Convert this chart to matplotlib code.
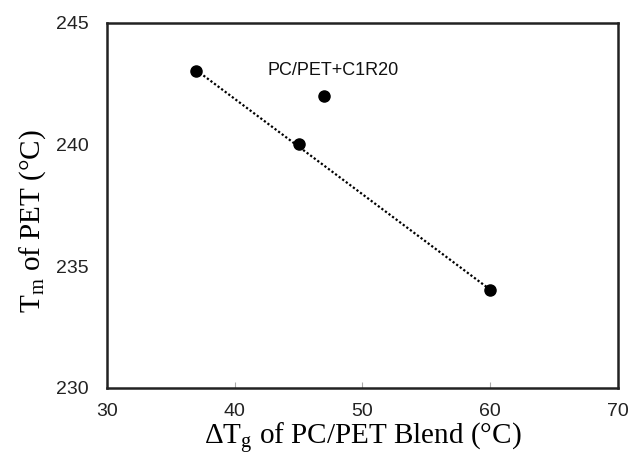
import numpy as np
import matplotlib
matplotlib.use("Agg")
import matplotlib.pyplot as plt

# Data
blend_dTg = [37, 45, 60]          # ΔTg of PC/PET blend (°C)
blend_Tm = [243, 240, 234]        # Tm of PET (°C)
c1r20_dTg = [47]
c1r20_Tm = [242]
annotation = "PC/PET+C1R20"
xticks = [30, 40, 50, 60, 70]
yticks = [230, 235, 240, 245]

plt.rcParams["font.family"] = ["Liberation Sans", "DejaVu Sans"]
plt.rcParams["mathtext.fontset"] = "custom"
plt.rcParams["mathtext.rm"] = "Liberation Serif"

fig = plt.figure(figsize=(6.32, 4.57), dpi=100)
ax = fig.add_axes([0.169, 0.1516, 0.809, 0.7984])

# linear trend through blend points
coef = np.polyfit(blend_dTg, blend_Tm, 1)
xs = np.array([min(blend_dTg), max(blend_dTg)])
ax.plot(xs, np.polyval(coef, xs), linestyle=(0, (1, 1)), color="black", lw=1.6, zorder=2)

ax.plot(blend_dTg, blend_Tm, "o", color="black", ms=8, zorder=3)
ax.plot(c1r20_dTg, c1r20_Tm, "o", color="black", ms=8, zorder=3)
ax.text(42.6, 243.05, annotation, fontsize=13, ha="left", va="center", color="#111111")

ax.set_xlim(30, 70)
ax.set_ylim(230, 245)
ax.set_xticks(xticks)
ax.set_yticks(yticks)
ax.tick_params(axis="x", direction="in", length=4, width=0.8, color="#aaaaaa",
               pad=11, labelsize=14, labelcolor="#222222")
ax.tick_params(axis="y", direction="in", length=0, pad=13, labelsize=14,
               labelcolor="#222222")
for s in ax.spines.values():
    s.set_linewidth(1.8)
    s.set_color("#222222")

ax.set_xlabel(r"ΔT$_\mathregular{g}$ of PC/PET Blend (°C)",
              fontsize=21, family="Liberation Serif", labelpad=0.5)
ax.set_ylabel(r"T$_\mathregular{m}$ of PET (°C)",
              fontsize=21, family="Liberation Serif")
ax.yaxis.set_label_coords(-0.115, 0.457)

fig.savefig("out.png", dpi=100)
